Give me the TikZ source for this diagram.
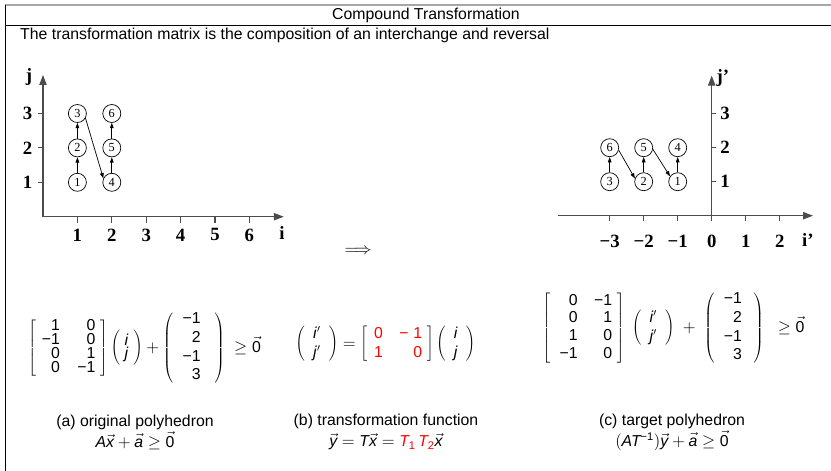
\documentclass[tikz,border=0pt]{standalone}
\usepackage{fontspec}
\setmainfont{Liberation Sans}
\newfontfamily\axisfont{Liberation Serif}
\usepackage{tikz}
\usetikzlibrary{arrows.meta,positioning,calc}
\newcommand{\vv}[1]{\vec{\mbox{\itshape #1}}}
\newcommand{\zv}{\vec{\mbox{0}}}
\tikzset{
  axisline/.style={draw=black!70, line width=1pt, -{Triangle[length=3mm,width=2.2mm]}},
  tickmark/.style={draw=black!70, line width=1pt},
  ticklab/.style={font=\axisfont\fontsize{16}{18}\selectfont\bfseries, inner sep=0pt},
  pt/.style={circle, draw, line width=0.6pt, minimum size=0.54cm, inner sep=0pt,
             font=\axisfont\fontsize{10.5}{12}\selectfont},
  ptarr/.style={-{Triangle[length=1.6mm,width=1.1mm]}, line width=0.6pt},
  formula/.style={font=\fontsize{13.5}{16}\selectfont, inner sep=0pt},
  caption/.style={font=\fontsize{13.5}{18}\selectfont, align=center, inner sep=0pt},
}

\begin{document}
\begin{tikzpicture}[x=0.03cm,y=-0.03cm]
\useasboundingbox (0,0) rectangle (831,471);
% frame
\draw[gray!70, line width=1.5pt] (5,5) -- (831,5);
\draw[line width=0.8pt] (5,25) -- (831,25);
\draw[line width=0.8pt] (5,5) -- (5,471);
\node[formula] (title) at (426,15) {Compound Transformation};
\node[formula, anchor=west] (sub) at (20,35)
  {The transformation matrix is the composition of an interchange and reversal};

% original iteration space
\begin{scope}[shift={(43,216.7)}, x=1.032cm, y=1.032cm]
\draw[axisline] (0,0) -- (7,0);
\draw[axisline] (0,0) -- (0,4.12);
\foreach \i in {1,...,6} {
  \draw[tickmark] (\i,0) -- (\i,-0.17);
  \node[ticklab] (xl\i) at (\i,-0.53) {\i};
}
\foreach \j in {1,2,3} {
  \draw[tickmark] (0,\j) -- (-0.14,\j);
  \node[ticklab] (yl\j) at (-0.45,\j) {\j};
}
\node[ticklab] (ilab) at (6.95,-0.47) {i};
\node[ticklab] (jlab) at (-0.41,4.06) {j};
\node[pt] (o1) at (1,1) {1};
\node[pt] (o2) at (1,2) {2};
\node[pt] (o3) at (1,3) {3};
\node[pt] (o4) at (2,1) {4};
\node[pt] (o5) at (2,2) {5};
\node[pt] (o6) at (2,3) {6};
\draw[ptarr] (o1) -- (o2);
\draw[ptarr] (o2) -- (o3);
\draw[ptarr] (o3.-30) -- (o4.155);
\draw[ptarr] (o4) -- (o5);
\draw[ptarr] (o5) -- (o6);
\end{scope}

\node[formula] (arrow) at (358,251) {$\Longrightarrow$};

% transformed iteration space
\begin{scope}[shift={(711.7,215.7)}, x=1.02cm, y=1.02cm]
\draw[axisline] (-4.52,0) -- (2.98,0);
\draw[axisline] (0,0) -- (0,4.12);
\foreach \i/\t in {-3/−3,-2/−2,-1/−1,0/0,1/1,2/2} {
  \draw[tickmark] (\i,0) -- (\i,-0.15);
  \node[ticklab] (xr\i) at (\i,-0.76) {\t};
}
\foreach \j in {1,2,3} {
  \draw[tickmark] (0,\j) -- (0.14,\j);
  \node[ticklab] (yr\j) at (0.39,\j) {\j};
}
\node[ticklab] (iplab) at (2.83,-0.71) {i’};
\node[ticklab] (jplab) at (0.33,4.06) {j’};
\node[pt] (t1) at (-1,1) {1};
\node[pt] (t2) at (-2,1) {2};
\node[pt] (t3) at (-3,1) {3};
\node[pt] (t4) at (-1,2) {4};
\node[pt] (t5) at (-2,2) {5};
\node[pt] (t6) at (-3,2) {6};
\draw[ptarr] (t3) -- (t6);
\draw[ptarr] (t6.-15) -- (t2.160);
\draw[ptarr] (t2) -- (t5);
\draw[ptarr] (t5.-10) -- (t1.145);
\draw[ptarr] (t1) -- (t4);
\end{scope}

% constraint systems
\node[formula] (leftsys) at (144.5,348)
  {$\left[\begin{tabular}{@{\hspace{5pt}}r@{\hspace{15pt}}r@{\hspace{4pt}}}
      1&0\\[-4pt] −1&0\\[-4pt] 0&1\\[-4pt] 0&−1\end{tabular}\right]
    \left(\begin{tabular}{@{\hspace{4pt}}c@{\hspace{4pt}}} \textit{i}\\[-5pt] \textit{j}\end{tabular}\right)+
    \left(\begin{tabular}{@{\hspace{8pt}}r@{\hspace{12pt}}} −1\\ 2\\ −1\\ 3\end{tabular}\right)\;\geq\zv$};
\node[formula] (midsys) at (385.5,344)
  {$\left(\begin{tabular}{@{\hspace{7pt}}c@{\hspace{7pt}}} \textit{i}$'$\\ \textit{j}$'$\end{tabular}\right)=
    \left[\begin{tabular}{@{\hspace{6pt}}r@{\hspace{14pt}}r@{\hspace{4pt}}}
      \color{red}0&\color{red}−\hspace{4pt}1\\ \color{red}1&\color{red}0\end{tabular}\right]
    \left(\begin{tabular}{@{\hspace{7pt}}c@{\hspace{7pt}}} \textit{i}\\ \textit{j}\end{tabular}\right)$};
\node[formula] (rightsys) at (673.5,328)
  {$\left[\begin{tabular}{@{\hspace{8pt}}r@{\hspace{14pt}}r@{\hspace{4pt}}}
      0&−1\\[-1pt] 0&1\\[-1pt] 1&0\\[-1pt] −1&0\end{tabular}\right]\;
    \left(\begin{tabular}{@{\hspace{7pt}}c@{\hspace{7pt}}} \textit{i}$'$\\ \textit{j}$'$\end{tabular}\right)\;+\;
    \left(\begin{tabular}{@{\hspace{8pt}}r@{\hspace{10pt}}} −1\\ 2\\ −1\\ 3\end{tabular}\right)\;\;\geq\zv$};

% captions
\node[caption] (capa) at (135,432)
  {(a) original polyhedron\\ $\mbox{\itshape A}\vv{x}+\vv{a}\geq\zv$};
\node[caption] (capb) at (386,432)
  {(b) transformation function\\
   $\vv{y}=\mbox{\itshape T}\vv{x}=\mbox{\color{red}\itshape T\textsubscript{\upshape 1}\,T\textsubscript{\upshape 2}}\vv{x}$};
\node[caption] (capc) at (672,432)
  {(c) target polyhedron\\ $(\mbox{\itshape AT\textsuperscript{\upshape −1}})\vv{y}+\vv{a}\geq\zv$};
\end{tikzpicture}
\end{document}
